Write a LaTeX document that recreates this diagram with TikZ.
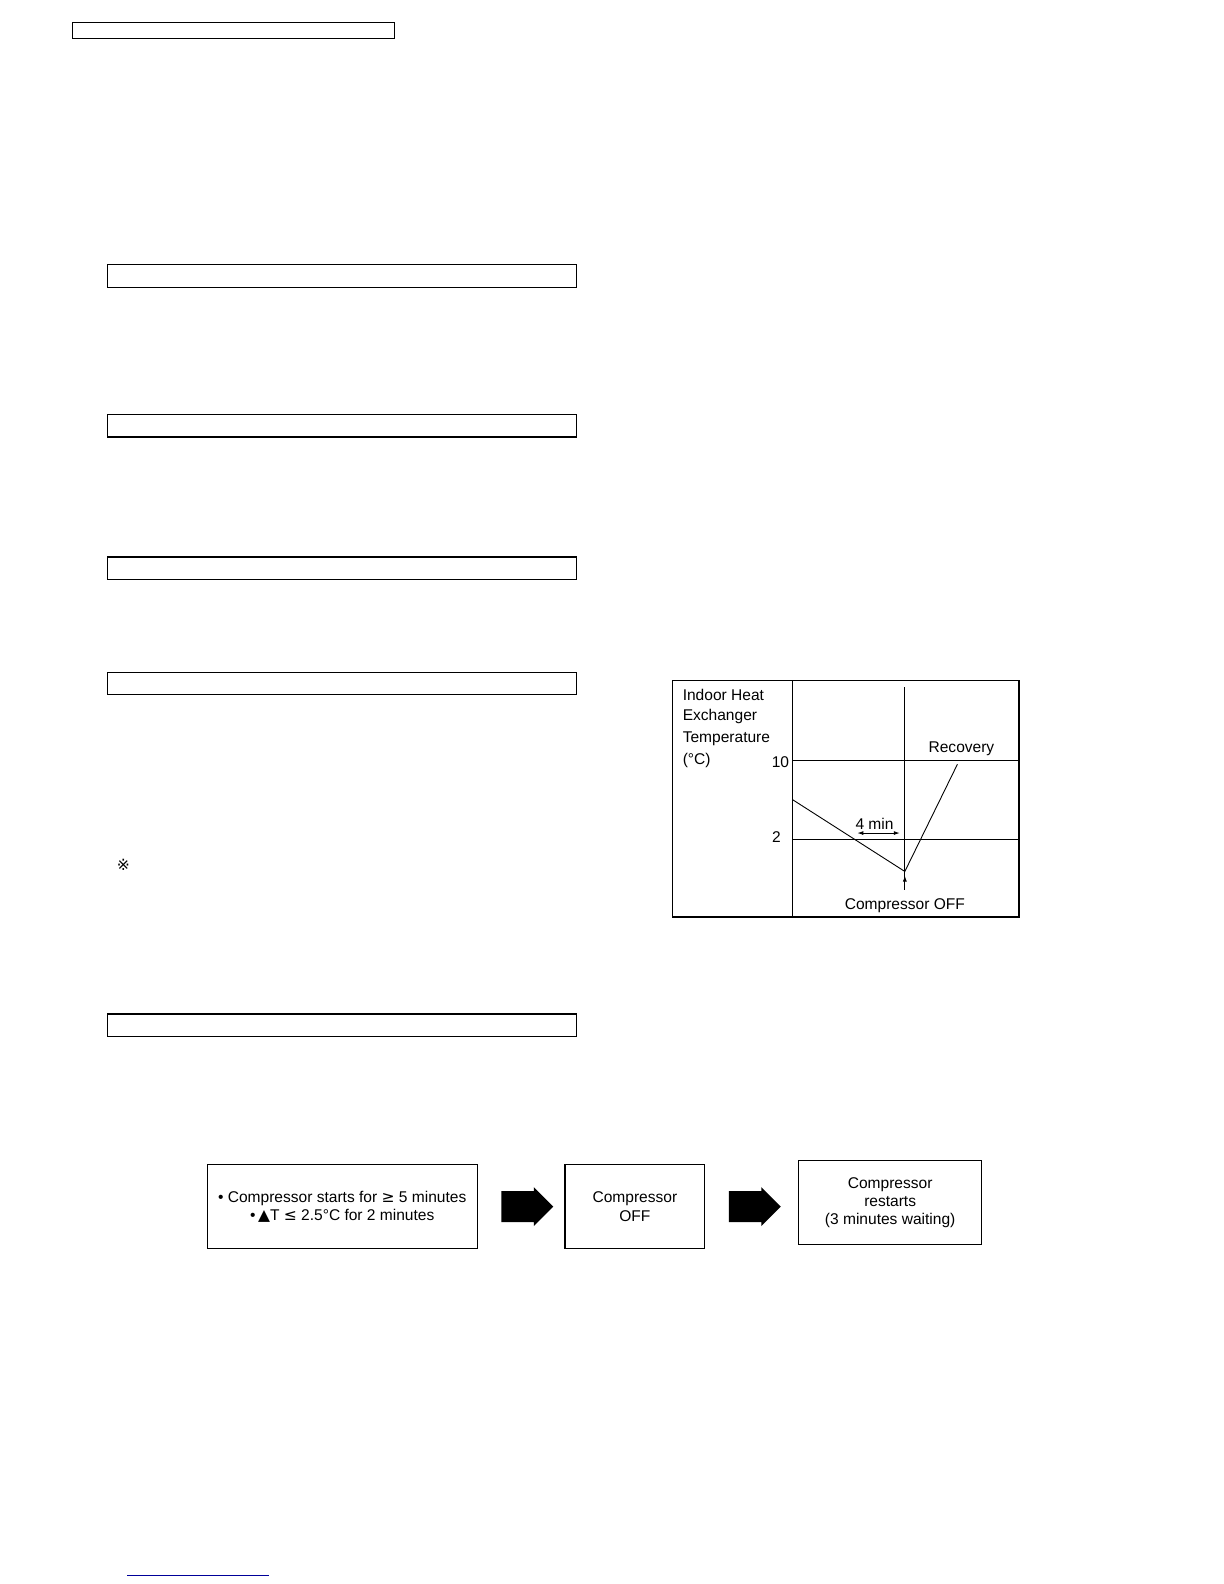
\documentclass[tikz,border=0pt]{standalone}
\usepackage{fontspec}
\setmainfont{Liberation Sans}
\newfontfamily\symfont{DejaVu Sans}
\usetikzlibrary{positioning}
\usetikzlibrary{shapes.arrows}
\usetikzlibrary{arrows.meta}
\begin{document}%
\begin{tikzpicture}[x=0.5055bp,y=-0.5055bp,font=\fontsize{7.8}{9.2}\selectfont,
  hdrbox/.style={draw,line width=0.7pt,minimum width=234.5bp,minimum height=11.2bp,inner sep=0pt},
  flowbox/.style={draw,line width=0.7pt,align=center,inner sep=0pt},
  fatarrow/.style={single arrow,fill=black,minimum height=26bp,inner xsep=0pt,inner ysep=7.5bp,single arrow head extend=2bp},
  lbl/.style={inner sep=1pt}]
		% Header boxes
		\node [draw,line width=0.6pt,minimum width=161bp,minimum height=8bp,inner sep=0pt] (title) at (231,30) {};
		\node [hdrbox] (h1) at (338,273) {};
		\node [hdrbox] (h2) at (338,421) {};
		\node [hdrbox] (h3) at (338,562) {};
		\node [hdrbox] (h4) at (338,676) {};
		\node [hdrbox] (h5) at (338,1014) {};
		\node [lbl] (note) at (122,855) {\symfont ※};
		\draw [blue!60!black,line width=0.4pt] (126,1558) -- (266,1558);
		
		% Chart
		\draw [line width=0.6pt] (665,673) rectangle (1008,907);
		\draw [line width=0.6pt] (784,673) -- (784,907);
		\coordinate (ttop) at (895,680); \coordinate (tbot) at (895,880);
		\draw [line width=0.45pt] (ttop) -- (tbot);
		\coordinate (t10) at (784,752); \coordinate (t10e) at (1008,752);
		\coordinate (t2) at (784,830); \coordinate (t2e) at (1008,830);
		\draw [line width=0.6pt] (t10) -- (t10e);
		\draw [line width=0.5pt] (t2) -- (t2e);
		\coordinate (p0) at (784,791); \coordinate (pmin) at (895,862); \coordinate (prec) at (947,756);
		\draw [line width=0.45pt] (p0) -- (pmin) -- (prec);
		\coordinate (m1) at (848,824); \coordinate (m2) at (890,824);
		\draw [{Latex[length=3bp,width=2bp]}-{Latex[length=3bp,width=2bp]},line width=0.45pt] (m1) -- (m2);
		\draw [-{Latex[length=3bp,width=2bp]},line width=0.45pt] (tbot) -- (895,866);
		\node [lbl,anchor=west] (yl1) at (673,687) {Indoor Heat};
		\node [lbl,anchor=west] (yl2) at (673,709) {Exchanger};
		\node [lbl,anchor=west] (yl3) at (673,731) {Temperature};
		\node [lbl,anchor=west] (yl4) at (673,752) {(°C)};
		\node [lbl] (v10) at (772,754) {10};
		\node [lbl] (v2) at (768,828) {2};
		\node [lbl] (rec) at (951,741) {Recovery};
		\node [lbl] (fourmin) at (865,815) {4 min};
		\node [lbl] (coff) at (895,896) {Compressor OFF};
		
		% Flow
		\node [flowbox,minimum width=135bp,minimum height=42bp] (start) at (338.5,1193.5) {\textbullet\ Compressor starts for {\symfont≥} 5 minutes\\\textbullet\,{\symfont▲}T {\symfont≤} 2.5°C for 2 minutes};
		\node [flowbox,minimum width=69.8bp,minimum height=42bp] (off) at (628,1193.5) {Compressor\\OFF};
		\node [flowbox,minimum width=91.5bp,minimum height=42bp] (restart) at (880.5,1189.5) {Compressor\\restarts\\(3 minutes waiting)};
		\node [fatarrow] (a1) at (514,1193.5) {};
		\node [fatarrow] (a2) at (739,1193.5) {};
		\pgfresetboundingbox
		\useasboundingbox (0,0) rectangle (1210.7,1566.8);
		\end{tikzpicture}%
\end{document}
